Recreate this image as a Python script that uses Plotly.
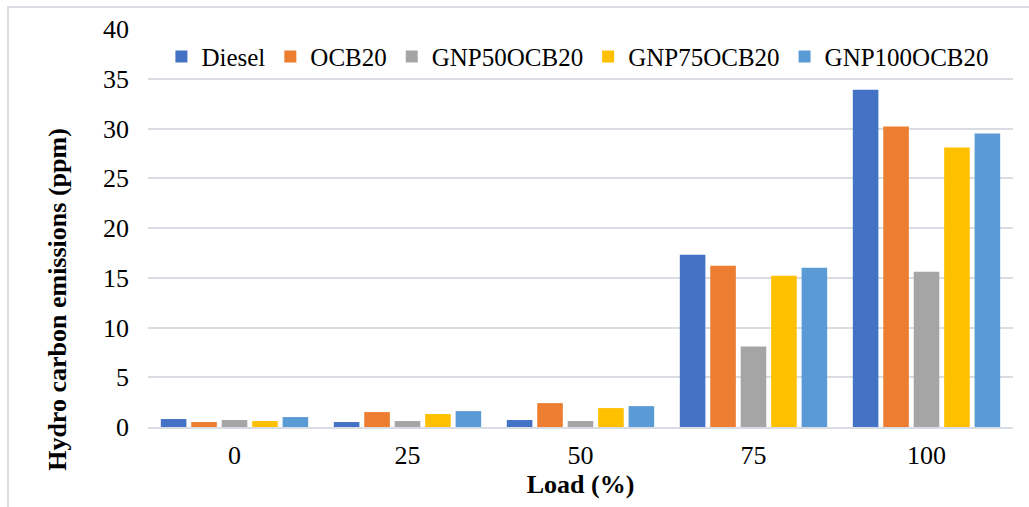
import plotly.graph_objects as go

loads = ["0", "25", "50", "75", "100"]
series_names = ["Diesel", "OCB20", "GNP50OCB20", "GNP75OCB20", "GNP100OCB20"]
diesel = [0.8, 0.5, 0.7, 17.3, 33.9]
ocb20 = [0.5, 1.5, 2.4, 16.2, 30.2]
gnp50 = [0.7, 0.6, 0.6, 8.1, 15.6]
gnp75 = [0.6, 1.3, 1.9, 15.2, 28.1]
gnp100 = [1.0, 1.6, 2.1, 16.0, 29.5]
colors = ["#4472C4", "#ED7D31", "#A5A5A5", "#FFC000", "#5B9BD5"]
y_title = "Hydro carbon emissions (ppm)"
x_title = "Load (%)"

values = [diesel, ocb20, gnp50, gnp75, gnp100]

fig = go.Figure()
for name, vals, col in zip(series_names, values, colors):
    fig.add_trace(go.Bar(x=loads, y=vals, name=name, marker=dict(color=col, line=dict(width=0))))

font_family = "Liberation Serif, Times New Roman, serif"
grid_col = "#d9dde3"
fig.update_layout(
    width=1029, height=507,
    margin=dict(l=148, r=16, t=29, b=80),
    paper_bgcolor="white", plot_bgcolor="white",
    barmode="group", bargap=0.12, bargroupgap=0.16,
    font=dict(family=font_family, size=26, color="black"),
    legend=dict(orientation="h", x=0.497, xanchor="center", y=0.93, yanchor="middle",
                font=dict(size=25), bgcolor="rgba(0,0,0,0)", itemwidth=30, tracegroupgap=0),
    xaxis=dict(title=dict(text="<b>" + x_title + "</b>", font=dict(size=26), standoff=4),
               showline=True, linecolor=grid_col, linewidth=2, ticks="", showgrid=False,
               tickfont=dict(size=26), ticklabelstandoff=4),
    yaxis=dict(range=[0, 40], dtick=5, showgrid=True, gridcolor=grid_col, gridwidth=2,
               zeroline=False, showline=False, ticks="", tickfont=dict(size=26),
               ticklabelstandoff=18),
    annotations=[dict(text="<b>" + y_title + "</b>", textangle=-90, xref="paper", yref="paper",
                      x=-0.105, y=0.32, xanchor="center", yanchor="middle", showarrow=False,
                      font=dict(size=26))],
    shapes=[dict(type="rect", xref="paper", yref="paper", x0=-0.1618, x1=1.2, y0=-0.5, y1=1.0553,
                 line=dict(color=grid_col, width=2), fillcolor="rgba(0,0,0,0)", layer="below")],
)

fig.write_html("out.html")
